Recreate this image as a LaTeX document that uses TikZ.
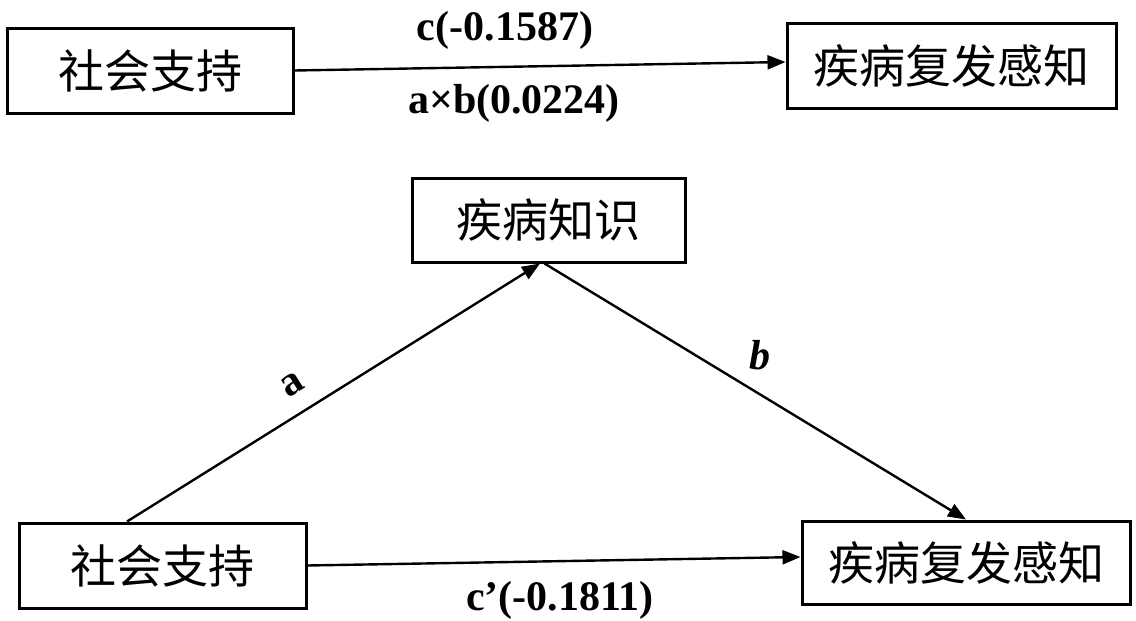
\documentclass[tikz,border=0pt]{standalone}
\usepackage{fontspec}
\setmainfont{Liberation Serif}
\newfontfamily\cjk{Noto Sans CJK SC}
\usetikzlibrary{arrows.meta}
\tikzset{
  box/.style={draw, line width=1.5pt, inner sep=0pt, font=\cjk\fontsize{23}{26}\selectfont},
  conn/.style={line width=1.2pt, -{Triangle[length=9pt,width=7pt]}},
  lbl/.style={font=\bfseries\fontsize{21}{24}\selectfont, inner sep=0pt}
}
\begin{document}
\begin{tikzpicture}[x=0.5pt,y=-0.5pt]
\useasboundingbox (0,0) rectangle (1136,621);
\node[box, minimum width=143pt, minimum height=42.5pt] (tl) at (150,70.5) {社会支持};
\node[box, minimum width=164.5pt, minimum height=42.5pt] (tr) at (951.5,65.5) {疾病复发感知};
\node[box, minimum width=136.5pt, minimum height=42pt] (mid) at (548.5,220) {疾病知识};
\node[box, minimum width=143.5pt, minimum height=42.5pt] (bl) at (162.5,565.5) {社会支持};
\node[box, minimum width=164pt, minimum height=41.5pt] (br) at (966,562.5) {疾病复发感知};

\draw[conn] (tl.east) -- ([yshift=1.75pt]tr.west);
\draw[conn] (bl.east) -- ([yshift=2.75pt]br.west);
\draw[conn] ([xshift=-17.75pt]bl.north) -- ([xshift=-4.25pt]mid.south);
\draw[conn] ([xshift=-2pt]mid.south) -- (br.north);

\node[lbl] (lc) at (505,30) {c(-0.1587)};
\node[lbl] (lab) at (514,103) {a×b(0.0224)};
\node[lbl] (lcp) at (560,600) {c’(-0.1811)};
\node[lbl, rotate=32] (la) at (292,385) {a};
\node[lbl, font=\bfseries\itshape\fontsize{21}{24}\selectfont] (lb) at (760,355) {b};
\end{tikzpicture}
\end{document}
